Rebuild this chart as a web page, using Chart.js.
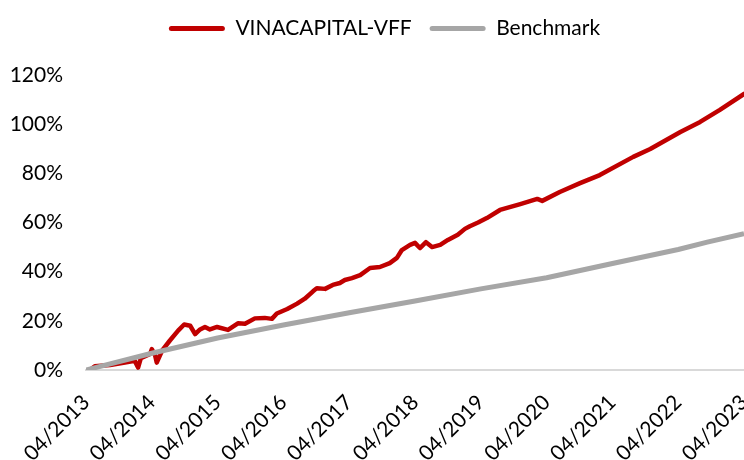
<!DOCTYPE html>
<html lang="en">
<head>
    <meta charset="UTF-8">
    <title>VINACAPITAL-VFF vs Benchmark</title>
    <script src="https://cdn.jsdelivr.net/npm/chart.js"></script>
    <style>
        body { margin: 0; padding: 0; background: #fff; }
        #wrap { width: 744px; height: 460px; }
    </style>
</head>
<body>
    <div id="wrap"><canvas id="perfChart" width="744" height="460"></canvas></div>

    <script>
        // x = months since 04/2013, y = cumulative return (%)
        const tickLabels = ['04/2013', '04/2014', '04/2015', '04/2016', '04/2017', '04/2018',
                            '04/2019', '04/2020', '04/2021', '04/2022', '04/2023'];

        const vffMonths = [0.7, 1.6, 4.4, 7.1, 8.9, 9.5, 10.0, 11.7, 12.0, 12.6, 12.9, 13.9, 15.3, 16.8,
            17.9, 19.0, 19.9, 20.8, 21.7, 22.6, 23.9, 25.9, 27.7, 29.0, 30.8, 32.6, 33.9, 34.8, 36.7,
            38.5, 39.9, 41.4, 42.1, 43.6, 45.0, 46.3, 47.2, 48.5, 50.0, 51.8, 53.6, 55.4, 56.7, 57.6,
            59.1, 60.0, 60.9, 62.0, 63.1, 64.6, 66.0, 67.8, 69.1, 70.0, 71.5, 73.1, 75.5, 79.2, 82.3,
            83.2, 86.4, 90.1, 93.7, 99.8, 102.9, 108.4, 112.0, 115.6, 120.0];
        const vffValues = [0.0, 1.5, 2.0, 3.0, 3.7, 1.0, 4.8, 6.5, 8.5, 6.0, 3.0, 8.0, 12.0, 16.0,
            18.5, 18.0, 14.6, 16.5, 17.5, 16.5, 17.5, 16.3, 19.0, 18.8, 21.0, 21.2, 20.8, 23.0, 24.8,
            27.0, 29.0, 32.0, 33.3, 33.0, 34.6, 35.4, 36.6, 37.4, 38.6, 41.5, 41.9, 43.5, 45.6, 48.8,
            50.9, 51.7, 49.6, 52.0, 50.0, 50.9, 52.9, 55.0, 57.4, 58.5, 60.0, 61.8, 65.1, 67.5, 69.6,
            68.8, 72.4, 76.0, 79.3, 86.7, 89.9, 96.8, 100.9, 105.8, 112.3];

        const benchMonths = [0, 12, 24, 36, 48, 60, 72, 84, 96, 108, 113.3, 120];
        const benchValues = [0, 6.8, 13.0, 18.3, 23.3, 28.1, 33.0, 37.5, 43.3, 49.0, 52.0, 55.5];

        const seriesNames = ['VINACAPITAL-VFF', 'Benchmark'];

        const toPoints = (xs, ys) => xs.map((x, i) => ({ x: x, y: ys[i] }));

        const fontFamily = 'Lato, "Liberation Sans", sans-serif';

        // keep the legend pinned to the top and nudged right, like the original
        const legendShift = {
            id: 'legendShift',
            afterLayout(chart) {
                const lg = chart.legend;
                const dy = lg.top;
                lg.top -= dy;
                lg.bottom -= dy;
                lg.left += 25;
            }
        };

        const ctx = document.getElementById('perfChart').getContext('2d');

        const chart = new Chart(ctx, {
            type: 'line',
            data: {
                datasets: [{
                    label: seriesNames[0],
                    data: toPoints(vffMonths, vffValues),
                    borderColor: '#C00000',
                    backgroundColor: '#C00000',
                    borderWidth: 4.5,
                    pointRadius: 0,
                    borderJoinStyle: 'round',
                    borderCapStyle: 'round',
                    order: 1
                }, {
                    label: seriesNames[1],
                    data: toPoints(benchMonths, benchValues),
                    borderColor: '#A6A6A6',
                    backgroundColor: '#A6A6A6',
                    borderWidth: 5,
                    pointRadius: 0,
                    borderJoinStyle: 'round',
                    order: 0
                }]
            },
            plugins: [legendShift],
            options: {
                responsive: false,
                animation: false,
                devicePixelRatio: 1,
                layout: { padding: 0 },
                plugins: {
                    tooltip: { enabled: false },
                    legend: {
                        position: 'top',
                        labels: {
                            color: '#000',
                            font: { family: fontFamily, size: 21 },
                            boxWidth: 56,
                            boxHeight: 5,
                            padding: 18,
                            useBorderRadius: true,
                            borderRadius: 2.5,
                            sort: (a, b) => a.datasetIndex - b.datasetIndex,
                            generateLabels: function(chart) {
                                const items = Chart.defaults.plugins.legend.labels.generateLabels(chart);
                                items.forEach(it => { it.lineWidth = 0; });
                                return items;
                            }
                        }
                    }
                },
                scales: {
                    x: {
                        type: 'linear',
                        min: 0,
                        max: 120,
                        grid: { display: false, drawTicks: false },
                        border: { color: '#D9D9D9', width: 2 },
                        ticks: {
                            stepSize: 12,
                            autoSkip: false,
                            minRotation: 45,
                            maxRotation: 45,
                            color: '#000',
                            font: { family: fontFamily, size: 21 },
                            padding: 20,
                            callback: (v) => tickLabels[Math.round(v / 12)]
                        },
                        afterFit: function(scale) {
                            scale.paddingRight = 0;
                            scale.height = 90;
                        }
                    },
                    y: {
                        min: 0,
                        max: 120,
                        grid: { display: false, drawTicks: false },
                        border: { display: false },
                        ticks: {
                            stepSize: 20,
                            color: '#000',
                            font: { family: fontFamily, size: 21 },
                            padding: 23,
                            callback: (v) => v + '%'
                        },
                        afterFit: function(scale) {
                            scale.width = 86;
                            scale.paddingTop = 75;
                        }
                    }
                }
            }
        });
    </script>
</body>
</html>
